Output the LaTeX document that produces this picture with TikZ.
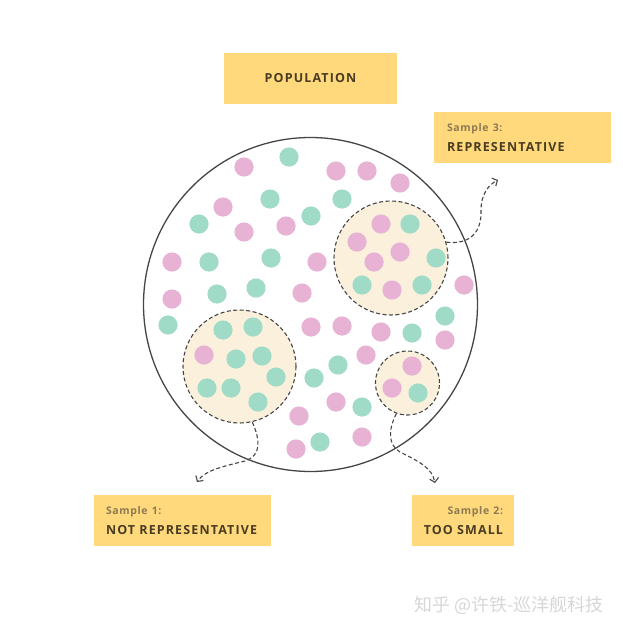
\documentclass[tikz,border=0pt]{standalone}
\usepackage{fontspec}
\setmainfont{Open Sans}
\newfontfamily\cjk{Noto Sans CJK SC}
\usetikzlibrary{positioning}
\usetikzlibrary{arrows.meta}

\begin{document}
\begin{tikzpicture}[x=1pt,y=-1pt,
  sample/.style={circle, draw=linegray, dash pattern=on 4pt off 2.5pt, line width=1.1pt, fill=samplefill, inner sep=0pt},
  labelbox/.style={fill=boxyellow, minimum height=51pt, text=textbrown,
    font=\bfseries\fontsize{12.5}{20}\selectfont\addfontfeature{LetterSpace=9}},
  lead/.style={draw=linegray, dash pattern=on 4pt off 2.5pt, line width=1.1pt,
    -{Straight Barb[length=4pt,width=9pt]}}]
\def\dotr{9.6}
\definecolor{dotpink}{RGB}{232,178,213}
\definecolor{dotteal}{RGB}{160,219,200}
\definecolor{samplefill}{RGB}{250,240,220}
\definecolor{boxyellow}{RGB}{255,217,124}
\definecolor{textbrown}{RGB}{74,60,34}
\definecolor{labelbrown}{RGB}{140,122,82}
\definecolor{linegray}{RGB}{70,70,70}
\definecolor{wmgray}{RGB}{215,215,215}
\newcommand{\smalllabel}[1]{{\fontsize{10.5}{20}\selectfont\addfontfeature{LetterSpace=6}\color{labelbrown}#1}}

\fill[white] (0,0) rectangle (623,632);

% population and samples
\node[circle, draw=linegray, line width=1.3pt, inner sep=0pt, minimum size=334pt] (pop) at (310.5,304.5) {};
\node[sample, minimum size=114pt] (s3) at (391,258) {};
\node[sample, minimum size=113pt] (s1) at (239.5,366.5) {};
\node[sample, minimum size=64pt] (s2) at (407.5,383) {};

% pink dots
\foreach \px/\py in {244/167, 336/171, 367/171, 400/183, 223/207, 244/232, 286/226,
  172/262, 317/262, 172/299, 302/293, 464/285, 311/327, 342/326, 381/332, 445/340,
  366/355, 336/402, 299/416, 296/449, 362/437,
  381/224, 357/242, 400/252, 374/262, 392/290,
  204/355, 412/366, 392/388} {
  \fill[dotpink] (\px,\py) circle[radius=\dotr];
}
% teal dots
\foreach \px/\py in {289/157, 270/199, 342/199, 311/216, 199/224, 209/262, 271/258,
  217/294, 256/288, 168/325, 445/316, 412/333, 338/365, 314/378, 362/407, 320/442,
  410/224, 436/258, 362/285, 422/285,
  223/330, 253/327, 236/359, 262/356, 276/377, 207/388, 231/388, 258/402,
  418/393} {
  \fill[dotteal] (\px,\py) circle[radius=\dotr];
}

% boxes
\node[labelbox, minimum width=173pt] (b0) at (310.5,78) {POPULATION};
\node[labelbox, inner xsep=13pt, text width=151pt, align=left] (b3) at (522.5,137.5)
  {\smalllabel{Sample 3:}\\REPRESENTATIVE};
\node[labelbox, inner xsep=12pt, text width=153pt, align=left] (b1) at (182.5,520.5)
  {\smalllabel{Sample 1:}\\NOT REPRESENTATIVE};
\node[labelbox, inner xsep=11pt, text width=80pt, align=right] (b2) at (463,520.5)
  {\smalllabel{Sample 2:}\\TOO SMALL};

% leads
\coordinate (a1) at (197,482);
\coordinate (a2) at (435,483);
\coordinate (a3) at (498,180);
\draw[lead] (s1.-77) .. controls (260,440) and (262,455) .. (245,461)
  .. controls (225,466) and (205,470) .. (a1);
\draw[lead] (s2.-110) .. controls (388,430) and (388,445) .. (400,452)
  .. controls (420,462) and (432,468) .. (a2);
\draw[lead] (s3.16) .. controls (470,245) and (482,232) .. (481,210)
  .. controls (481,195) and (488,185) .. (a3);

\node[font=\cjk\fontsize{18}{18}\selectfont, text=wmgray, anchor=west] (wm) at (411,605)
  {知乎 @许铁-巡洋舰科技};
\end{tikzpicture}
\end{document}
